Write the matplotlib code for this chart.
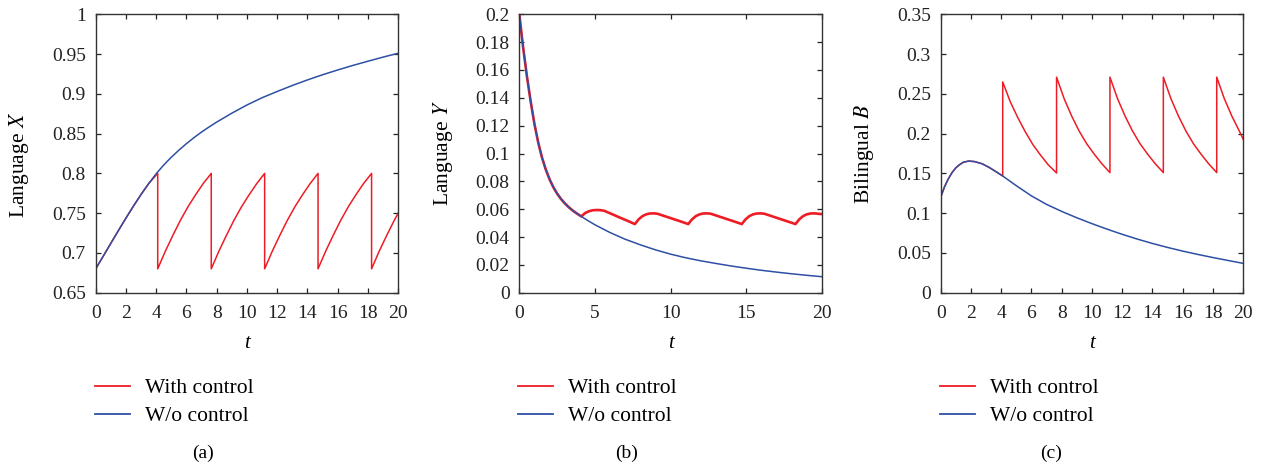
import numpy as np
import matplotlib.pyplot as plt
from matplotlib.lines import Line2D

plt.rcParams['font.family'] = ['Liberation Serif', 'DejaVu Serif']
plt.rcParams['mathtext.fontset'] = 'stix'

RED = '#ee1c25'
BLUE = '#2e4fa3'

# ---- panel (a): Language X ----
tx_free = [0, 0.5, 1, 1.5, 2, 2.5, 3, 3.5, 4, 4.5, 5, 5.5, 6, 6.5, 7, 7.5, 8, 9, 10, 11, 12, 13, 14, 15,
           16, 17, 18, 19, 20]
x_free = [0.680, 0.6960, 0.7121, 0.7281, 0.7438, 0.7590, 0.7735, 0.7871, 0.7996, 0.8106, 0.8203, 0.8292,
          0.8374, 0.8450, 0.8520, 0.8584, 0.8645, 0.8757, 0.8860, 0.8951, 0.9030, 0.9105, 0.9175, 0.9240,
          0.9300, 0.9357, 0.9410, 0.9462, 0.9510]
tx_ctrl = [0, 0.5, 1, 1.5, 2, 2.5, 3, 3.5, 4.1,
           4.1, 4.6, 5.1, 5.6, 6.1, 6.6, 7.1, 7.64,
           7.64, 8.14, 8.64, 9.14, 9.64, 10.14, 10.64, 11.17,
           11.17, 11.67, 12.17, 12.67, 13.17, 13.67, 14.17, 14.7,
           14.7, 15.2, 15.7, 16.2, 16.7, 17.2, 17.7, 18.24,
           18.24, 18.74, 19.24, 19.74, 20]
x_ctrl = [0.680, 0.6960, 0.7121, 0.7281, 0.7438, 0.7590, 0.7735, 0.7871, 0.800,
          0.680, 0.702, 0.722, 0.741, 0.758, 0.773, 0.787, 0.800,
          0.680, 0.702, 0.722, 0.741, 0.758, 0.773, 0.787, 0.800,
          0.680, 0.702, 0.722, 0.741, 0.758, 0.773, 0.787, 0.800,
          0.680, 0.702, 0.722, 0.741, 0.758, 0.773, 0.787, 0.800,
          0.680, 0.702, 0.722, 0.741, 0.750]

# ---- panel (b): Language Y ----
ty_free = [0, 0.25, 0.5, 0.75, 1, 1.25, 1.5, 1.75, 2, 2.25, 2.5, 2.75, 3, 3.25, 3.5, 3.75, 4.1,
           4.5, 5, 6, 7, 8, 9, 10, 11, 12, 13, 14, 15, 16, 17, 18, 19, 20]
y_free = [0.200, 0.1765, 0.1558, 0.1375, 0.1213, 0.1079, 0.0971, 0.0885, 0.0815, 0.0758, 0.0712, 0.0674,
          0.0643, 0.0616, 0.0593, 0.0573, 0.0548,
          0.0520, 0.0488, 0.0432, 0.0384, 0.0344, 0.0308, 0.0277, 0.0251, 0.0229, 0.0210, 0.0192,
          0.0176, 0.0161, 0.0148, 0.0136, 0.0125, 0.0115]
ty_ctrl = [0, 0.25, 0.5, 0.75, 1, 1.25, 1.5, 1.75, 2, 2.25, 2.5, 2.75, 3, 3.25, 3.5, 3.75, 4.1,
           4.35, 4.6, 4.85, 5.1, 5.35, 5.6, 6.1, 6.6, 7.1, 7.64,
           7.89, 8.14, 8.39, 8.64, 8.89, 9.14, 9.64, 10.14, 10.64, 11.17,
           11.42, 11.67, 11.92, 12.17, 12.42, 12.67, 13.17, 13.67, 14.17, 14.71,
           14.96, 15.21, 15.46, 15.71, 15.96, 16.21, 16.71, 17.21, 17.71, 18.26,
           18.51, 18.76, 19.01, 19.26, 19.51, 19.76, 20]
y_ctrl = [0.200, 0.1765, 0.1558, 0.1375, 0.1213, 0.1079, 0.0971, 0.0885, 0.0815, 0.0758, 0.0712, 0.0674,
          0.0643, 0.0616, 0.0593, 0.0573, 0.0548,
          0.0572, 0.0585, 0.0592, 0.0594, 0.0593, 0.0589, 0.0566, 0.0542, 0.0519, 0.0493,
          0.0527, 0.0550, 0.0563, 0.0569, 0.0570, 0.0567, 0.0549, 0.0531, 0.0513, 0.0493,
          0.0527, 0.0550, 0.0563, 0.0569, 0.0570, 0.0567, 0.0549, 0.0531, 0.0513, 0.0493,
          0.0527, 0.0550, 0.0563, 0.0569, 0.0570, 0.0567, 0.0549, 0.0531, 0.0513, 0.0493,
          0.0527, 0.0550, 0.0563, 0.0569, 0.0570, 0.0567, 0.0565]

# ---- panel (c): Bilingual B ----
tb_free = [0, 0.25, 0.5, 0.75, 1, 1.25, 1.5, 1.85, 2.25, 2.75, 3.25, 3.75, 4.1, 5, 6, 7, 8, 9, 10, 11, 12,
           13, 14, 15, 16, 17, 18, 19, 20]
b_free = [0.120, 0.133, 0.143, 0.151, 0.157, 0.161, 0.164, 0.1655, 0.1648, 0.162, 0.157, 0.151, 0.1467,
          0.1345, 0.1217, 0.1110, 0.1022, 0.0942, 0.0868, 0.0799, 0.0734, 0.0674, 0.0619, 0.0569, 0.0523,
          0.0481, 0.0442, 0.0405, 0.0369]
tb_ctrl = [0, 0.25, 0.5, 0.75, 1, 1.25, 1.5, 1.85, 2.25, 2.75, 3.25, 3.75, 4.1,
           4.1, 4.6, 5.1, 5.6, 6.1, 6.6, 7.1, 7.66,
           7.66, 8.16, 8.66, 9.16, 9.66, 10.16, 10.66, 11.19,
           11.19, 11.69, 12.19, 12.69, 13.19, 13.69, 14.19, 14.72,
           14.72, 15.22, 15.72, 16.22, 16.72, 17.22, 17.72, 18.25,
           18.25, 18.75, 19.25, 19.75, 20]
b_ctrl = [0.120, 0.133, 0.143, 0.151, 0.157, 0.161, 0.164, 0.1655, 0.1648, 0.162, 0.157, 0.151, 0.1467,
          0.265, 0.240, 0.220, 0.202, 0.186, 0.173, 0.161, 0.1505,
          0.271, 0.244, 0.222, 0.203, 0.187, 0.174, 0.162, 0.151,
          0.271, 0.244, 0.222, 0.203, 0.187, 0.174, 0.162, 0.151,
          0.271, 0.244, 0.222, 0.203, 0.187, 0.174, 0.162, 0.151,
          0.271, 0.244, 0.222, 0.203, 0.193]

panels = [
    dict(tf=tx_free, yf=x_free, tc=tx_ctrl, yc=x_ctrl, ylim=(0.65, 1.0), yticks=np.arange(0.65, 1.001, 0.05),
         yticklabels=['0.65', '0.7', '0.75', '0.8', '0.85', '0.9', '0.95', '1'],
         xticks=range(0, 21, 2), ylabel='Language $X$', tag='(a)', left=95.7, red_lw=1.1, ylab_y=0.46),
    dict(tf=ty_free, yf=y_free, tc=ty_ctrl, yc=y_ctrl, ylim=(0, 0.2), yticks=np.arange(0, 0.201, 0.02),
         yticklabels=['0', '0.02', '0.04', '0.06', '0.08', '0.1', '0.12', '0.14', '0.16', '0.18', '0.2'],
         xticks=range(0, 21, 5), ylabel='Language $Y$', tag='(b)', left=519.3, red_lw=1.9, ylab_y=0.5),
    dict(tf=tb_free, yf=b_free, tc=tb_ctrl, yc=b_ctrl, ylim=(0, 0.35), yticks=np.arange(0, 0.351, 0.05),
         yticklabels=['0', '0.05', '0.1', '0.15', '0.2', '0.25', '0.3', '0.35'],
         xticks=range(0, 21, 2), ylabel='Bilingual $B$', tag='(c)', left=940.7, red_lw=1.1, ylab_y=0.5),
]
tag_x = [203, 627, 1051]

W, H = 1263, 470
fig = plt.figure(figsize=(W / 100, H / 100), dpi=100)

for p, tx in zip(panels, tag_x):
    ax = fig.add_axes([p['left'] / W, 1 - 292.7 / H, 302.5 / W, 278.4 / H])
    ax.plot(p['tc'], p['yc'], color=RED, lw=p['red_lw'], label='With control')
    ax.plot(p['tf'], p['yf'], color=BLUE, lw=1.1, label='W/o control')
    ax.set_xlim(0, 20)
    ax.set_ylim(*p['ylim'])
    ax.set_xticks(list(p['xticks']))
    ax.set_yticks(p['yticks'])
    ax.set_yticklabels(p['yticklabels'])
    ax.tick_params(direction='in', top=True, right=True, length=3.5, width=0.9,
                   labelsize=14, colors='#222222')
    ax.tick_params(axis='x', pad=8.5)
    ax.tick_params(axis='y', pad=7)
    for s in ax.spines.values():
        s.set_linewidth(1.0)
        s.set_color('#333333')
    ax.set_xlabel('t', style='italic', fontsize=15)
    ax.xaxis.set_label_coords(0.5, -0.15)
    ax.set_ylabel(p['ylabel'], fontsize=15.5)
    ax.yaxis.set_label_coords(-0.214, p['ylab_y'])

    handles = [Line2D([], [], color=RED, lw=1.3), Line2D([], [], color=BLUE, lw=1.3)]
    fig.legend(handles, ['With control', 'W/o control'], loc='upper left',
               bbox_to_anchor=((p['left'] - 1) / W, 1 - 378 / H), frameon=False,
               fontsize=15.5, borderpad=0, borderaxespad=0, handlelength=1.63,
               handletextpad=0.7, labelspacing=0.37)
    fig.text(tx / W, 1 - 453 / H, p['tag'], ha='center', va='center', fontsize=14)

fig.savefig('out.png', dpi=100)
